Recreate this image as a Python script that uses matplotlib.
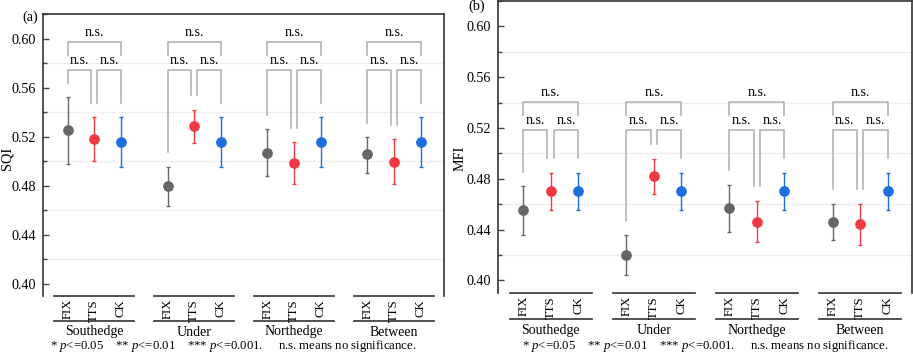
import matplotlib
matplotlib.use("Agg")
import matplotlib.pyplot as plt
import matplotlib.transforms as mtransforms
from matplotlib.ticker import MultipleLocator

plt.rcParams['font.family'] = ['Liberation Serif', 'DejaVu Serif']
plt.rcParams['mathtext.fontset'] = 'custom'
plt.rcParams['mathtext.rm'] = 'Liberation Serif'
plt.rcParams['mathtext.it'] = 'Liberation Serif:italic'

# ---------------- data ----------------
groups = ["Southedge", "Under", "Northedge", "Between"]
treatments = ["FIX", "TTS", "CK"]

sqi_mean = [[0.525, 0.518, 0.5156],
            [0.4794, 0.5283, 0.5156],
            [0.5067, 0.4985, 0.5156],
            [0.5056, 0.4994, 0.5156]]
sqi_lo = [[0.498, 0.500, 0.4956],
          [0.4636, 0.5148, 0.4956],
          [0.4877, 0.4813, 0.4956],
          [0.4907, 0.4813, 0.4956]]
sqi_hi = [[0.552, 0.536, 0.5356],
          [0.4956, 0.5421, 0.5356],
          [0.5265, 0.5156, 0.5356],
          [0.5200, 0.5178, 0.5356]]

mfi_mean = [[0.455, 0.470, 0.470],
            [0.4199, 0.4822, 0.470],
            [0.4566, 0.446, 0.470],
            [0.4458, 0.444, 0.470]]
mfi_lo = [[0.4358, 0.455, 0.455],
          [0.404, 0.4678, 0.455],
          [0.4377, 0.430, 0.455],
          [0.4319, 0.4277, 0.455]]
mfi_hi = [[0.474, 0.4848, 0.4848],
          [0.4356, 0.4955, 0.4848],
          [0.4754, 0.4625, 0.4848],
          [0.4602, 0.4602, 0.4848]]

sig_labels = ["n.s.", "n.s.", "n.s."]  # FIX-TTS, TTS-CK, FIX-CK
yticks = [0.40, 0.44, 0.48, 0.52, 0.56, 0.60]

colors = ["#666666", "#ee3a40", "#1c6fde"]
bracket_color = "#b3b3b3"

W, H = 913, 354
fig = plt.figure(figsize=(W / 100, H / 100), dpi=100)


def px_axes(l, r, t, b):
    return fig.add_axes([l / W, 1 - b / H, (r - l) / W, (b - t) / H])


group_step = 3.75


def draw_panel(ax, means, los, his, ylabel, ylabel_xy, letter, letter_xy, foot_x, offs):
    ax.set_xlim(-0.92, 3 * group_step + 2 + 0.87)
    ax.set_ylim(0.39, 0.62)
    ax.set_yticks(yticks)
    ax.set_yticklabels([f"{v:.2f}" for v in yticks], fontsize=10.2)
    ax.yaxis.set_minor_locator(MultipleLocator(0.02))
    ax.tick_params(axis='y', which='major', direction='in', length=4, width=1,
                   color='#444444', pad=5)
    ax.tick_params(axis='y', which='minor', direction='in', length=3, width=1, color='#444444')
    ax.set_xticks([])
    for s in ['left', 'right', 'top']:
        ax.spines[s].set_color('#333333')
        ax.spines[s].set_linewidth(1.2)
    ax.spines['bottom'].set_visible(False)
    for v in [0.42, 0.46, 0.50, 0.54, 0.58]:
        ax.axhline(v, color='#eeeeee', lw=0.9, zorder=0)
    fig.text(ylabel_xy[0] / W, 1 - ylabel_xy[1] / H, ylabel, rotation=90,
             ha='center', va='center', fontsize=10.2)

    allhi = max(max(r) for r in his)
    small_y = allhi + 0.0225
    big_y = small_y + 0.0225
    gap = 0.0115
    leg = 0.0105
    inner = 0.12
    tpad = 0.0025

    trans = mtransforms.blended_transform_factory(ax.transData, ax.transAxes)
    for gi, g in enumerate(groups):
        xs = [gi * group_step + k for k in range(3)]
        for k in range(3):
            ax.errorbar(xs[k], means[gi][k],
                        yerr=[[means[gi][k] - los[gi][k]], [his[gi][k] - means[gi][k]]],
                        fmt='o', color=colors[k], ms=6.7, mec=colors[k],
                        ecolor=colors[k], elinewidth=1.0, capsize=1.5, capthick=1.0,
                        zorder=3)
        # FIX-TTS
        x0, x1 = xs[0], xs[1] - inner
        ax.plot([x0, x0, x1, x1],
                [his[gi][0] + gap, small_y, small_y, his[gi][1] + gap],
                color=bracket_color, lw=1.2, zorder=2)
        ax.text((x0 + x1) / 2, small_y + tpad, sig_labels[0], ha='center', va='bottom', fontsize=10.2)
        # TTS-CK
        x0, x1 = xs[1] + inner, xs[2]
        ax.plot([x0, x0, x1, x1],
                [his[gi][1] + gap, small_y, small_y, his[gi][2] + gap],
                color=bracket_color, lw=1.2, zorder=2)
        ax.text((x0 + x1) / 2, small_y + tpad, sig_labels[1], ha='center', va='bottom', fontsize=10.2)
        # FIX-CK
        x0, x1 = xs[0], xs[2]
        ax.plot([x0, x0, x1, x1],
                [big_y - leg, big_y, big_y, big_y - leg],
                color=bracket_color, lw=1.2, zorder=2)
        ax.text((x0 + x1) / 2, big_y + tpad, sig_labels[2], ha='center', va='bottom', fontsize=10.2)

        # bottom category axis
        gx0, gx1 = xs[1] - 1.5, xs[1] + 1.5
        ax.plot([gx0, gx1], [0, 0], transform=trans, color='#333333', lw=1.2, clip_on=False)
        line2 = mtransforms.offset_copy(trans, fig=fig, x=0, y=-offs[0], units='dots')
        ax.plot([gx0, gx1], [0, 0], transform=line2, color='#333333', lw=1.2, clip_on=False)
        lab = mtransforms.offset_copy(trans, fig=fig, x=0, y=-3, units='dots')
        for k in range(3):
            ax.text(xs[k], 0, treatments[k], transform=lab, rotation=90,
                    ha='center', va='top', fontsize=9.2, clip_on=False)
        gtr = mtransforms.offset_copy(trans, fig=fig, x=0, y=-offs[1], units='dots')
        ax.text(xs[1], 0, g, transform=gtr, ha='center', va='center', fontsize=10)

    ftr = mtransforms.offset_copy(trans, fig=fig, x=0, y=-offs[2], units='dots')
    ax.text(foot_x, 0,
            "* $p$<=0.05    ** $p$<=0.01    *** $p$<=0.001.     n.s. means no significance.",
            transform=ftr, ha='center', va='center', fontsize=9.2)
    fig.text(letter_xy[0] / W, 1 - letter_xy[1] / H, letter, ha='center', va='center', fontsize=10.2)


ax1 = px_axes(43, 444, 14, 296)
draw_panel(ax1, sqi_mean, sqi_lo, sqi_hi, "SQI", (7, 158), "(a)", (30, 17), 6.22, (25, 36, 50.5))

ax2 = px_axes(498, 911.5, 1, 293)
draw_panel(ax2, mfi_mean, mfi_lo, mfi_hi, "MFI", (460, 158), "(b)", (477, 6), 6.625, (26, 37.5, 52.5))

fig.savefig("out.png", dpi=100)
